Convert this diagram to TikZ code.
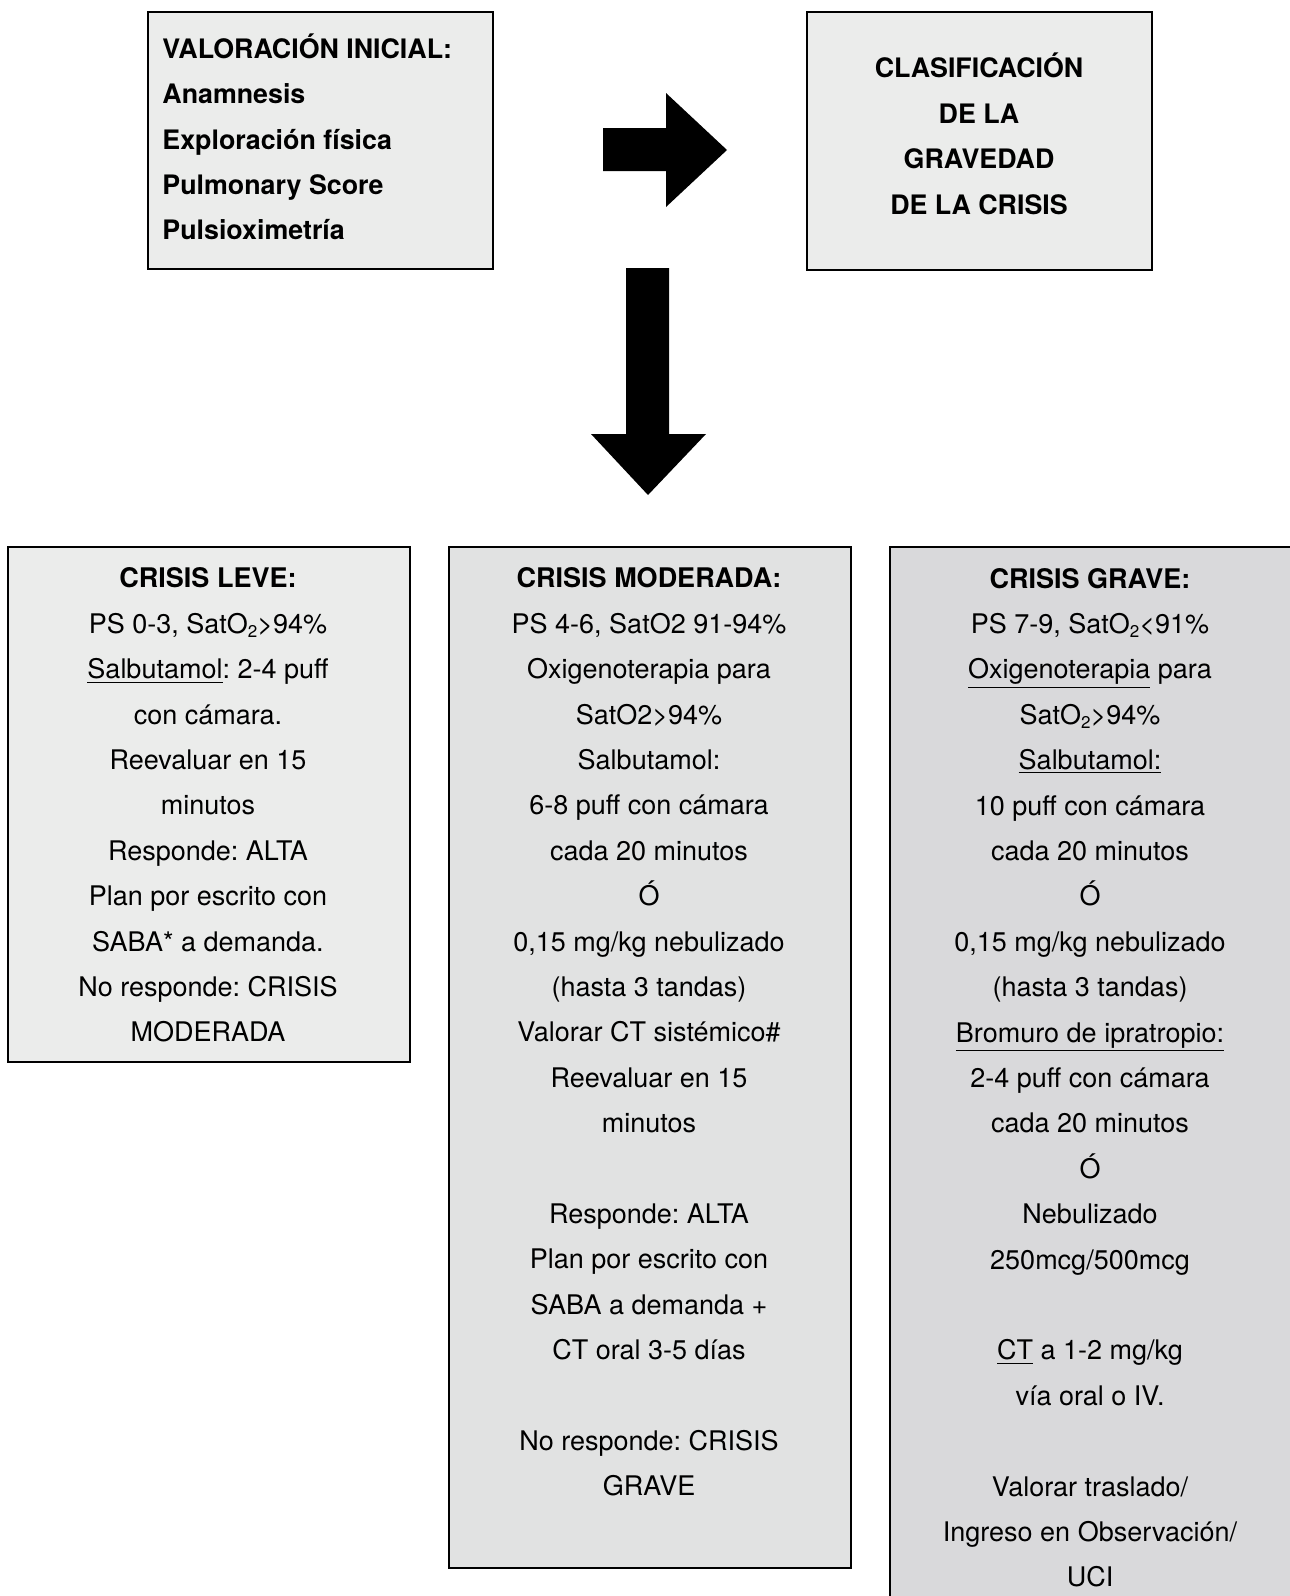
\documentclass[tikz,border=0pt]{standalone}
\usepackage{fontspec}
\setmainfont{TeX Gyre Heros}
\frenchspacing
\definecolor{boxlight}{RGB}{235,236,235}
\definecolor{boxmid}{RGB}{225,226,226}
\definecolor{boxdark}{RGB}{217,217,219}
\newcommand{\sub}[1]{\raisebox{-2pt}{\fontsize{8.5}{8.5}\selectfont #1}}
\begin{document}
\begin{tikzpicture}[x=0.5pt,y=-0.5pt,
  box/.style={draw=black,line width=1pt,inner sep=0pt,outer sep=0pt},
  txt/.style={inner sep=0pt,outer sep=0pt,anchor=north,align=center,font=\fontsize{13.5}{22.7}\selectfont},
  blockarrow/.style={fill=black,draw=none}]
\useasboundingbox (0,0) rectangle (1290,1596);
\clip (0,0) rectangle (1290,1596);
% top boxes
\node[box,fill=boxlight,minimum width=172.5pt,minimum height=128.5pt] (b1) at (320.5,140.5) {};
\node[box,fill=boxlight,minimum width=172.5pt,minimum height=129pt] (b2) at (979,140.5) {};
\node[inner sep=0pt,anchor=north west,align=left,font=\fontsize{13.4}{22.7}\selectfont\bfseries] (t1) at (162,26.2)
  {\strut VALORACIÓN INICIAL:\\Anamnesis\\Exploración física\\Pulmonary Score\\Pulsioximetría};
\node[inner sep=0pt,anchor=north,align=center,font=\fontsize{13.4}{22.8}\selectfont\bfseries] (t2) at (979,45.1)
  {\strut CLASIFICACIÓN\\DE LA\\GRAVEDAD\\DE LA CRISIS};
% block arrows
\fill[blockarrow] (603,128) -- (666,128) -- (666,93) -- (727,150) -- (666,207) -- (666,171) -- (603,171) -- cycle;
\fill[blockarrow] (626,268) -- (669,268) -- (669,434) -- (706,434) -- (648,495) -- (591,434) -- (626,434) -- cycle;
% bottom boxes
\node[box,fill=boxlight,minimum width=201pt,minimum height=257.5pt] (leve) at (209,804.5) {};
\node[box,fill=boxmid,minimum width=201pt,minimum height=510.5pt] (mod) at (650,1057.5) {};
\node[box,fill=boxdark,minimum width=201pt,minimum height=536.5pt] (grave) at (1091,1083.5) {};
\node[txt] (tleve) at (208,556.2)
  {\strut\textbf{CRISIS LEVE:}\\PS 0-3, SatO\sub{2}>94\%\\\underline{Salbutamol}: 2-4 puff\\con cámara.\\Reevaluar en 15\\minutos\\Responde: ALTA\\Plan por escrito con\\SABA* a demanda.\\No responde: CRISIS\\MODERADA};
\node[txt] (tmod) at (649,556.2)
  {\strut\textbf{CRISIS MODERADA:}\\PS 4-6, SatO2 91-94\%\\Oxigenoterapia para\\SatO2>94\%\\Salbutamol:\\6-8 puff con cámara\\cada 20 minutos\\Ó\\0,15 mg/kg nebulizado\\(hasta 3 tandas)\\Valorar CT sistémico\#\\Reevaluar en 15\\minutos\\\strut~\\Responde: ALTA\\Plan por escrito con\\SABA a demanda +\\CT oral 3-5 días\\\strut~\\No responde: CRISIS\\GRAVE};
\node[txt] (tgrave) at (1090,556.2)
  {\strut\textbf{CRISIS GRAVE:}\\PS 7-9, SatO\sub{2}<91\%\\\underline{Oxigenoterapia} para\\SatO\sub{2}>94\%\\\underline{Salbutamol:}\\10 puff con cámara\\cada 20 minutos\\Ó\\0,15 mg/kg nebulizado\\(hasta 3 tandas)\\\underline{Bromuro de ipratropio:}\\2-4 puff con cámara\\cada 20 minutos\\Ó\\Nebulizado\\250mcg/500mcg\\\strut~\\\underline{CT} a 1-2 mg/kg\\vía oral o IV.\\\strut~\\Valorar traslado/\\Ingreso en Observación/\\UCI};
\end{tikzpicture}
\end{document}
